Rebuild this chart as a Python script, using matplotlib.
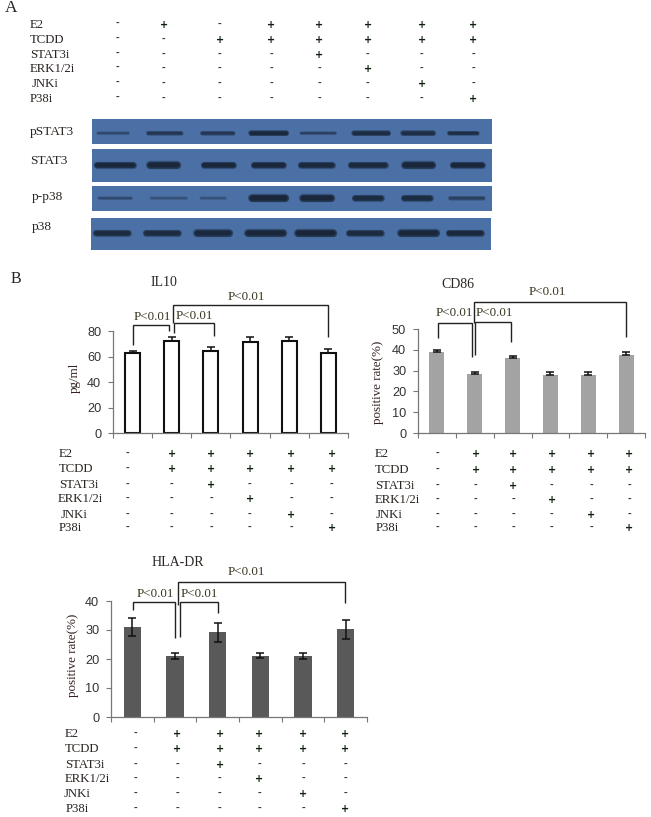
import matplotlib
matplotlib.use("Agg")
import matplotlib.pyplot as plt
from matplotlib.patches import Rectangle

W, H = 651, 817
SERIF = "Liberation Serif"
SANS = "Liberation Sans"

# ---------- data ----------
row_names = ["E2", "TCDD", "STAT3i", "ERK1/2i", "JNKi", "P38i"]
signs_a = ["-+-+++++", "--++++++", "----+---", "-----+--", "------+-", "-------+"]
signs_b = ["-+++++", "-+++++", "--+---", "---+--", "----+-", "-----+"]

il10_vals = [62.5, 72.5, 64.5, 71.5, 72.5, 63.0]
il10_errs = [2.0, 3.0, 2.8, 3.5, 3.0, 3.0]
cd86_vals = [39.0, 28.5, 36.0, 28.0, 28.0, 37.5]
cd86_errs = [0.8, 1.0, 1.0, 1.3, 1.4, 1.3]
hla_vals = [31.0, 21.0, 29.2, 21.2, 21.0, 30.2]
hla_errs = [3.2, 1.0, 3.3, 0.9, 1.0, 3.4]

blot_names = ["pSTAT3", "STAT3", "p-p38", "p38"]
blot_x = [[113, 164, 217, 268, 318, 371, 418, 463],
          [115, 163, 218, 268, 316, 368, 418, 467],
          [115, 168, 213, 268, 317, 368, 417, 466],
          [112, 162, 213, 265, 315, 365, 418, 465]]
blot_w = [[33, 37, 35, 40, 37, 39, 35, 32],
          [42, 34, 35, 35, 37, 40, 34, 35],
          [35, 38, 27, 40, 35, 32, 32, 37],
          [38, 38, 39, 42, 42, 38, 42, 38]]
blot_h = [[3, 4, 4, 5, 3, 5, 5, 4],
          [6, 7, 6, 6, 6, 6, 7, 6],
          [3, 3, 3, 7, 7, 6, 6, 4],
          [6, 6, 7, 7, 7, 6, 7, 6]]
blot_i = [[.35, .6, .6, .9, .45, .8, .75, .75],
          [.95, .95, .95, .95, .9, .9, .95, .95],
          [.35, .25, .25, 1., .95, .85, .85, .45],
          [.85, .85, .9, .95, 1., .85, .95, .9]]

# ---------- layout (pixels) ----------
fig = plt.figure(figsize=(W / 100, H / 100), dpi=100, facecolor="white")
ov = fig.add_axes([0, 0, 1, 1], zorder=5)
ov.set_xlim(0, W)
ov.set_ylim(H, 0)
ov.axis("off")
ov.patch.set_alpha(0)

BLUE = "#4b70a6"
DARK = "#121c2a"
TXT = "#2a2522"


def label(x, y, s, size=9.2, ha="left", color=TXT, **kw):
    ov.text(x, y, s, family=SERIF, fontsize=size, ha=ha, va="center", color=color, **kw)


def table(cols, rows, labx, signs, first_dy=0):
    for r, (name, y) in enumerate(zip(row_names, rows)):
        label(labx[r], y, name)
        for c, x in enumerate(cols):
            s = signs[r][c]
            dy = first_dy if c == 0 else 0
            if s == "+":
                ov.text(x, y + dy, "+", family="DejaVu Sans", fontsize=7, fontweight="bold",
                        ha="center", va="center", color="#10200f")
            else:
                ov.text(x, y + dy - 1, "-", family=SANS, fontsize=8, fontweight="bold",
                        ha="center", va="center", color="#333333")


def bracket(x0, x1, y, yl, yr):
    ov.plot([x0, x0, x1, x1], [yl, y, y, yr], color="#222222", lw=1.0,
            solid_joinstyle="miter", solid_capstyle="butt")


def pval(x, y):
    label(x, y, "P<0.01", size=9.4, ha="center", color="#3a3620")


def chart(left, right, y0, ytop, ymax, step, vals, errs, face, edge, bw, both, lw):
    ax = fig.add_axes([left / W, 1 - y0 / H, (right - left) / W, (y0 - ytop) / H])
    xs = [i + 0.5 for i in range(len(vals))]
    ax.bar(xs, vals, width=bw, color=face, edgecolor=edge, linewidth=lw, zorder=2)
    lo = errs if both else [0] * len(errs)
    ax.errorbar(xs, vals, yerr=[lo, errs], fmt="none", ecolor="#111111", elinewidth=1.1,
                capsize=3, capthick=1.1, zorder=3)
    ax.set_xlim(0, len(vals))
    ax.set_ylim(0, ymax)
    ax.set_xticks(range(len(vals) + 1))
    ax.set_xticklabels([])
    ax.set_yticks(range(0, ymax + 1, step))
    ax.tick_params(axis="both", direction="out", length=3.5, width=0.8, color="#777777")
    ax.tick_params(axis="y", pad=5, labelsize=9.2, labelcolor="#333333")
    for l in ax.get_yticklabels():
        l.set_family(SANS)
    for s in ("top", "right"):
        ax.spines[s].set_visible(False)
    for s in ("left", "bottom"):
        ax.spines[s].set_color("#777777")
        ax.spines[s].set_linewidth(0.9)
    ax.patch.set_alpha(0)
    return ax


# ---------- panel A ----------
label(5, 8, "A", size=12.5)
table([117, 164, 220, 271, 319, 368, 422, 473], [24.5, 39.5, 54.5, 69, 84, 99],
      [30, 30, 30, 30, 32, 30], signs_a, first_dy=-1)

panels = [(92, 119, 400, 25, 133), (92, 149, 400, 33, 165), (92, 186, 400, 25, 198), (91, 218, 400, 32, 233)]
name_pos = [(30, 132), (30, 161), (32, 197), (32, 227)]
for k, (px, py, pw, ph, cy) in enumerate(panels):
    ov.add_patch(Rectangle((px, py), pw, ph, facecolor=BLUE, edgecolor="none"))
    label(name_pos[k][0], name_pos[k][1], blot_names[k], size=9.6)
    for x, w, h, i in zip(blot_x[k], blot_w[k], blot_h[k], blot_i[k]):
        for f in (1.2, 1.0, 0.8, 0.6):
            half = max(w / 2 - h / 2, 1)
            ov.plot([x - half, x + half], [cy, cy], color=DARK, lw=h * f * 0.72,
                    alpha=0.4 * i, solid_capstyle="round")

# ---------- panel B ----------
label(11, 279, "B", size=11.5)

chart(113, 348, 433, 331, 80, 20, il10_vals, il10_errs, "white", "#111111", 0.38, False, 1.5)
label(164, 283, "IL10", size=10, ha="center")
ov.text(75, 378, "pg/ml", family=SERIF, fontsize=9.4, rotation=90, ha="center", va="center", color="#33201e")
bracket(133, 169, 325, 345, 331)
bracket(174, 214, 323, 333, 336)
bracket(173, 328, 305, 323, 337)
pval(152, 317); pval(194, 316); pval(246, 297)
table([128, 172, 211, 250, 291, 332], [454, 469, 485, 499, 515, 528], [59, 59, 59, 58, 61, 59], signs_b)

chart(418, 645, 433, 329, 50, 10, cd86_vals, cd86_errs, "#a3a3a3", "#a3a3a3", 0.4, False, 0)
label(458, 284, "CD86", size=10, ha="center")
ov.text(378, 382, "positive rate(%)", family=SERIF, fontsize=9.4, rotation=90, ha="center", va="center", color="#33201e")
bracket(438, 472, 323, 338, 357)
bracket(475, 511, 322, 355, 342)
bracket(474, 626, 302, 323, 337)
pval(454, 313); pval(494, 313); pval(547, 292)
table([437, 476, 513, 552, 591, 629], [454, 470, 486, 500, 515, 528], [375, 375, 375, 375, 376, 376], signs_b)

chart(111, 367, 717, 601, 40, 10, hla_vals, hla_errs, "#595959", "#595959", 0.4, True, 0)
label(178, 563, "HLA-DR", size=10, ha="center")
ov.text(73, 655, "positive rate(%)", family=SERIF, fontsize=9.4, rotation=90, ha="center", va="center", color="#33201e")
bracket(133, 175, 602, 610, 638)
bracket(180, 218, 602, 637, 613)
bracket(178, 345, 582, 605, 603)
pval(155, 594); pval(199, 594); pval(246, 572)
table([135, 177, 220, 259, 303, 345], [734, 749, 765, 779, 794, 809], [65, 65, 65, 65, 64, 66], signs_b)

fig.savefig("out.png", dpi=100, facecolor="white")
